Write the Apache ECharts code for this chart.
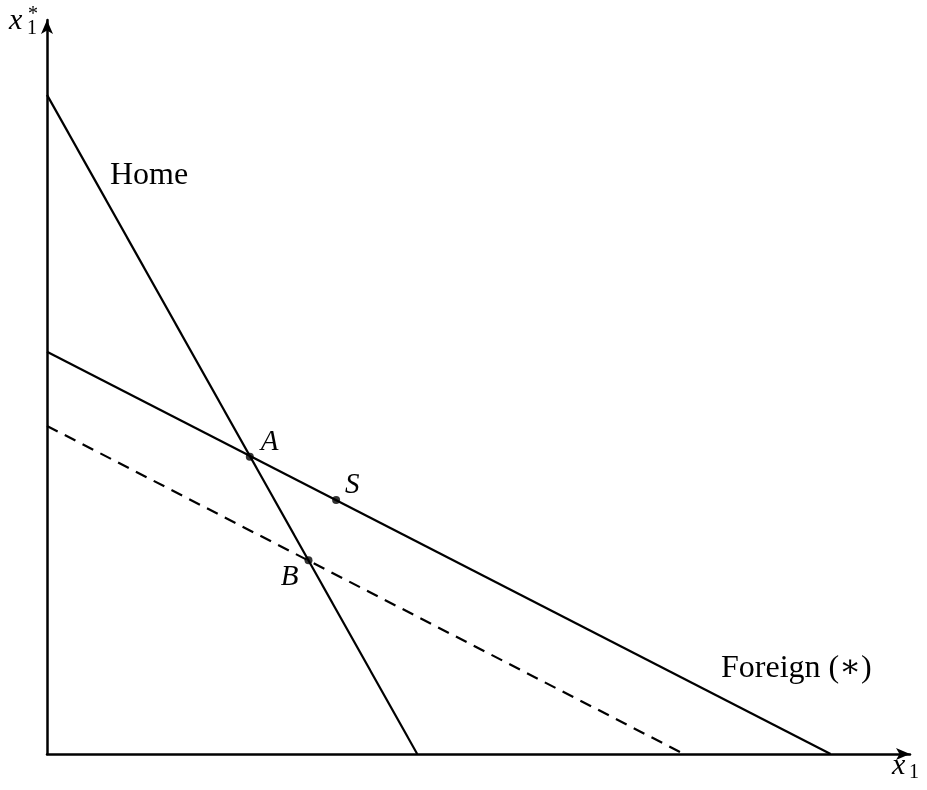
<!DOCTYPE html>
<html>
<head>
<meta charset="utf-8">
<script src="https://cdn.jsdelivr.net/npm/echarts@6/dist/echarts.min.js"></script>
<style>
  html, body { margin: 0; padding: 0; background: #fff; }
  #chart { width: 927px; height: 790px; }
</style>
</head>
<body>
<div id="chart"></div>
<script>
// line end points, in axis units (0..100 on both axes)
const homeLine = [[0, 89.8], [42.9, 0]]
const foreignLine = [[0, 54.8], [90.8, 0]]
const shiftedLine = [[0, 44.7], [73.8, 0]]
// equilibrium points: name, x, y
const pointNames = ['A', 'S', 'B']
const pointX = [23.5, 33.5, 30.3]
const pointY = [40.5, 34.6, 26.4]

const serif = '"Liberation Serif", "DejaVu Serif", serif'
const ink = '#000'

// label placement per point
const labelPos = {
  A: { position: 'right', offset: [2, -14] },
  S: { position: 'right', offset: [0, -15] },
  B: { position: 'left', offset: [-1, 17] }
}

const chart = echarts.init(document.getElementById('chart'))

const hiddenAxis = {
  type: 'value',
  min: 0,
  max: 100,
  axisTick: { show: false },
  axisLabel: { show: false },
  splitLine: { show: false },
  axisLine: {
    onZero: false,
    symbol: ['none', 'arrow'],
    symbolSize: [9, 14],
    lineStyle: { color: ink, width: 2.5 }
  }
}

chart.setOption({
  animation: false,
  backgroundColor: '#fff',
  grid: { left: 47, right: 17, top: 20, bottom: 36 },
  xAxis: hiddenAxis,
  yAxis: hiddenAxis,
  series: [
    {
      name: 'Home',
      type: 'line',
      data: homeLine,
      showSymbol: false,
      clip: false,
      lineStyle: { color: ink, width: 2.2 }
    },
    {
      name: 'Foreign',
      type: 'line',
      data: foreignLine,
      showSymbol: false,
      clip: false,
      lineStyle: { color: ink, width: 2.2 }
    },
    {
      name: 'Shifted',
      type: 'line',
      data: shiftedLine,
      showSymbol: false,
      clip: false,
      lineStyle: { color: ink, width: 2.2, type: [12, 8] }
    },
    {
      name: 'points',
      type: 'scatter',
      symbolSize: 8,
      itemStyle: { color: ink },
      z: 5,
      data: pointNames.map((n, i) => ({
        value: [pointX[i], pointY[i]],
        name: n,
        label: Object.assign({
          show: true,
          formatter: '{b}',
          fontFamily: serif,
          fontStyle: 'italic',
          fontSize: 29,
          color: ink,
          textBorderWidth: 0,
          opacity: 1
        }, labelPos[n])
      }))
    }
  ],
  graphic: [
    { type: 'text', left: 110, top: 160, style: { text: 'Home', font: '32px ' + serif, fill: ink } },
    { type: 'text', left: 721, top: 653, style: { text: 'Foreign (∗)', font: '32px ' + serif, fill: ink } },
    // y axis name x1*
    { type: 'text', left: 9, top: 6, style: { text: 'x', font: 'italic 30px ' + serif, fill: ink } },
    { type: 'text', left: 27, top: 19, style: { text: '1', font: '20px ' + serif, fill: ink } },
    { type: 'text', left: 28, top: 5, style: { text: '*', font: '20px ' + serif, fill: ink } },
    // x axis name x1
    { type: 'text', left: 892, top: 751, style: { text: 'x', font: 'italic 30px ' + serif, fill: ink } },
    { type: 'text', left: 909, top: 763, style: { text: '1', font: '20px ' + serif, fill: ink } }
  ]
})
</script>
</body>
</html>
